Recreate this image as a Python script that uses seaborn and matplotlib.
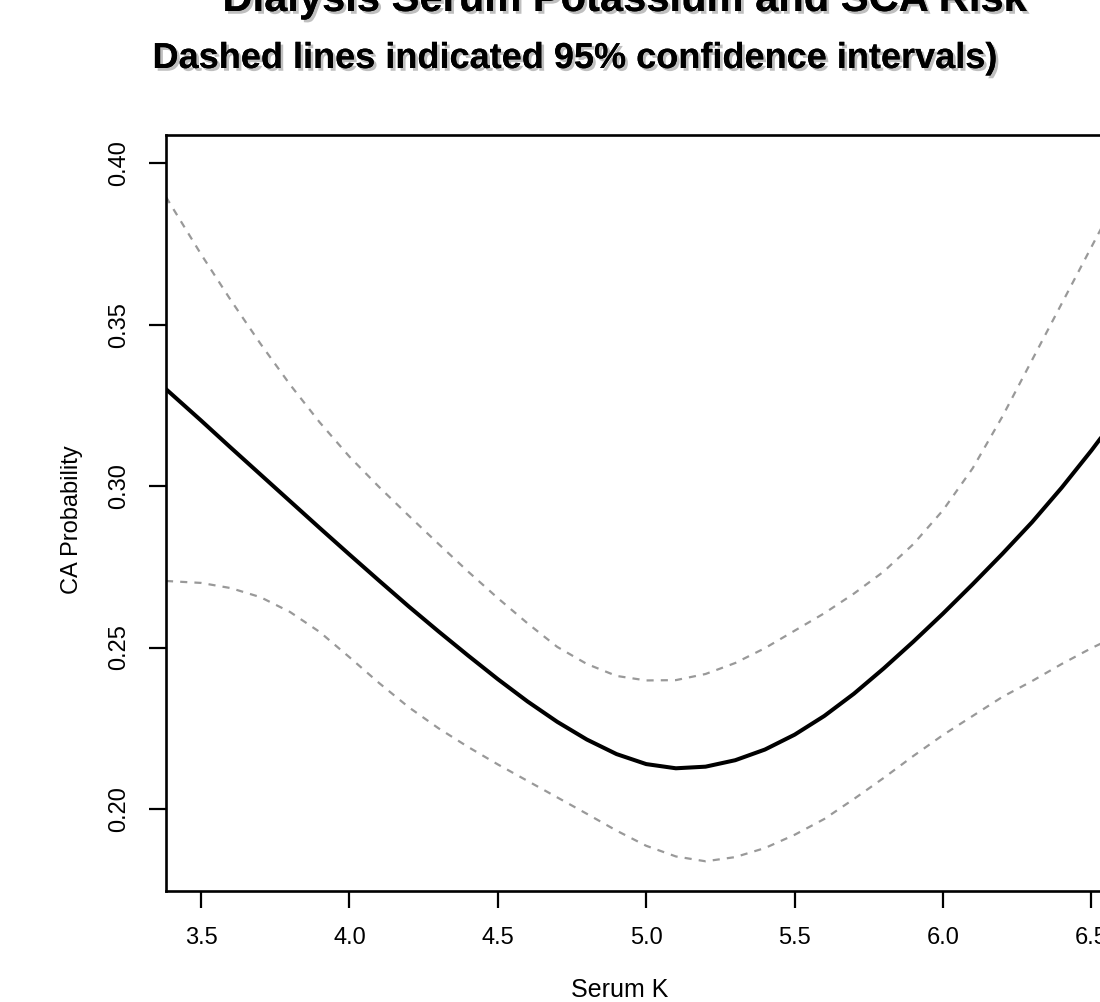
import numpy as np
import pandas as pd
import matplotlib
matplotlib.use("Agg")
import matplotlib.pyplot as plt
import matplotlib.patheffects as pe
import seaborn as sns

# values
serum_k = [3.382, 3.5, 3.6, 3.7, 3.8, 3.9, 4.0, 4.1, 4.2, 4.3, 4.4,
           4.5, 4.6, 4.7, 4.8, 4.9, 5.0, 5.1, 5.2, 5.3, 5.4, 5.5,
           5.6, 5.7, 5.8, 5.9, 6.0, 6.1, 6.2, 6.3, 6.4, 6.5, 6.6]
ca_prob = [0.3300, 0.3203, 0.3119, 0.3036, 0.2953, 0.2870, 0.2788, 0.2707, 0.2627, 0.2550, 0.2475,
           0.2402, 0.2333, 0.2270, 0.2215, 0.2170, 0.2139, 0.2126, 0.2131, 0.2151, 0.2184, 0.2230,
           0.2288, 0.2357, 0.2435, 0.2518, 0.2605, 0.2696, 0.2790, 0.2888, 0.2995, 0.3110, 0.3232]
ci_upper = [0.3895, 0.3718, 0.3576, 0.3441, 0.3314, 0.3197, 0.3091, 0.2997, 0.2908, 0.2821, 0.2735,
            0.2653, 0.2575, 0.2502, 0.2449, 0.2412, 0.2398, 0.2399, 0.2418, 0.2452, 0.2498, 0.2552,
            0.2606, 0.2667, 0.2735, 0.2820, 0.2925, 0.3055, 0.3215, 0.3390, 0.3565, 0.3740, 0.3915]
ci_lower = [0.2706, 0.2700, 0.2684, 0.2656, 0.2610, 0.2548, 0.2470, 0.2390, 0.2315, 0.2250, 0.2192,
            0.2138, 0.2087, 0.2036, 0.1985, 0.1933, 0.1886, 0.1853, 0.1838, 0.1851, 0.1879, 0.1920,
            0.1969, 0.2031, 0.2096, 0.2164, 0.2229, 0.2288, 0.2347, 0.2396, 0.2449, 0.2498, 0.2542]

x_ticks = [3.5, 4.0, 4.5, 5.0, 5.5, 6.0, 6.5]
y_ticks = [0.20, 0.25, 0.30, 0.35, 0.40]

title = "Dialysis Serum Potassium and SCA Risk"
subtitle = "Dashed lines indicated 95% confidence intervals)"

sns.set_style("white")
plt.rcParams['font.family'] = ['Liberation Sans', 'DejaVu Sans']
plt.rcParams['text.color'] = 'black'

W, H = 1100, 1002
fig = plt.figure(figsize=(W / 100, H / 100), dpi=100)
# plot box runs past the right edge of the picture, like the cropped original
ax = fig.add_axes([166 / W, (H - 891) / H, (1127 - 166) / W, (891 - 135) / H])

df = pd.DataFrame({"Serum K": serum_k, "fit": ca_prob,
                   "upper": ci_upper, "lower": ci_lower})

sns.lineplot(data=df, x="Serum K", y="fit", color="black", linewidth=2.9, ax=ax)
for col in ["upper", "lower"]:
    sns.lineplot(data=df, x="Serum K", y=col, color="#999999",
                 linewidth=1.6, linestyle="--", ax=ax)
for line in ax.lines[1:]:
    line.set_dashes((3.2, 3.2))

ax.set_xlim(3.382, 6.62)
ax.set_ylim(0.1746, 0.4087)
ax.set_xticks(x_ticks)
ax.set_xticklabels([f"{v:.1f}" for v in x_ticks])
ax.set_yticks(y_ticks)
ax.set_yticklabels([f"{v:.2f}" for v in y_ticks], rotation=90, va="center")
ax.tick_params(bottom=True, left=True, direction="out", length=12, width=1.6,
               color="black", pad=14, labelsize=17, labelcolor="black")
for s in ax.spines.values():
    s.set_visible(True)
    s.set_color("black")
    s.set_linewidth(1.9)
ax.set_xlabel("")
ax.set_ylabel("")

fig.text(620 / W, 1 - 990 / H, "Serum K", ha="center", va="center",
         fontsize=18, color="black")
fig.text(72 / W, 1 - 520 / H, "CA Probability", ha="center", va="center",
         rotation=90, fontsize=17, color="black")

shadow = [pe.withSimplePatchShadow(offset=(2, -2), shadow_rgbFace="gray", alpha=0.5),
          pe.Normal()]
fig.text(625 / W, 1 - 11 / H, title, ha="center", va="baseline", fontsize=30,
         fontweight="bold", color="black", path_effects=shadow)
fig.text(575 / W, 1 - 68 / H, subtitle, ha="center", va="baseline", fontsize=26,
         fontweight="bold", color="black", path_effects=shadow)

fig.savefig("out.png", dpi=100)
